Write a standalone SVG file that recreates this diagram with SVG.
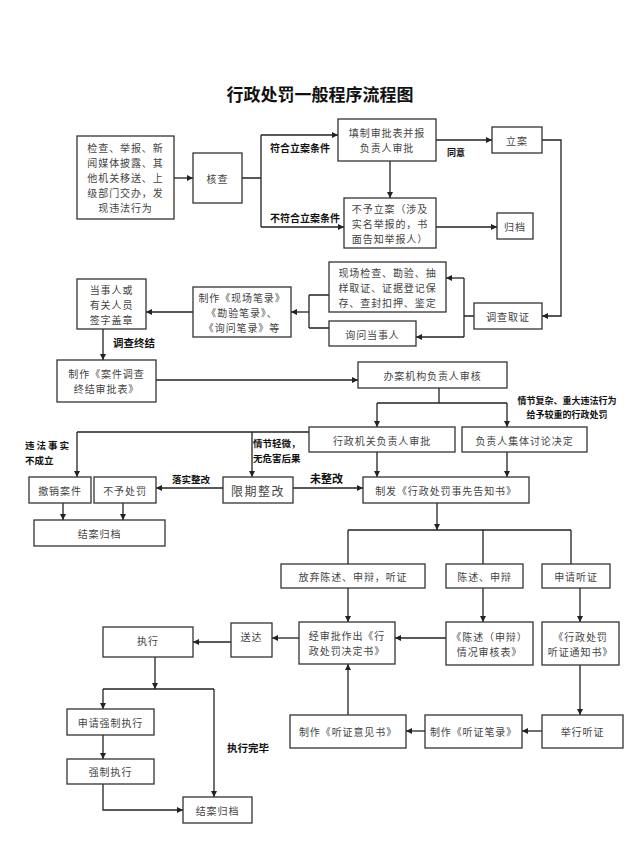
<svg xmlns="http://www.w3.org/2000/svg" width="640" height="853" viewBox="0 0 640 853">
<style>
.bg{fill:#ffffff}
.box{fill:#ffffff;stroke:#333333;stroke-width:1.3}
.t{font-family:"Noto Sans CJK SC","Noto Sans",sans-serif;font-size:10px;letter-spacing:0.9px;fill:#444444;text-anchor:middle;dominant-baseline:central}
.lbl{font-family:"Noto Sans CJK SC","Noto Sans",sans-serif;font-size:10px;font-weight:bold;fill:#111111;dominant-baseline:central}
.title{font-family:"Noto Sans CJK SC","Noto Sans",sans-serif;font-size:17px;font-weight:bold;fill:#111111;text-anchor:middle;dominant-baseline:central}
.ln{fill:none;stroke:#222222;stroke-width:1.3}
.ar{fill:none;stroke:#222222;stroke-width:1.3;marker-end:url(#ah)}
</style>
<defs>
<marker id="ah" viewBox="0 0 10 10" refX="10" refY="5" markerWidth="6" markerHeight="6" markerUnits="userSpaceOnUse" orient="auto">
<path d="M0,0 L10,5 L0,10 z" fill="#222222"/>
</marker>
</defs>
<rect class="bg" x="0" y="0" width="640" height="853"/>
<text class="title" x="320" y="93">行政处罚一般程序流程图</text>

<g id="connectors">
<path class="ar" d="M174,178 H193"/>
<path class="ln" d="M242,178 H261 M261,135 V227"/>
<path class="ar" d="M261,135 H338"/>
<path class="ar" d="M261,227 H344"/>
<path class="ar" d="M390,161 V198"/>
<path class="ar" d="M436,140 H492"/>
<path class="ar" d="M436,227 H497"/>
<path class="ar" d="M542,140 H561 V316 H542"/>
<path class="ln" d="M474,316 H464 M464,278 V337"/>
<path class="ar" d="M464,278 H446"/>
<path class="ar" d="M464,337 H416"/>
<path class="ln" d="M329,295 H309 M329,328 H309 M309,295 V328"/>
<path class="ar" d="M309,312 H291"/>
<path class="ar" d="M193,312 H146"/>
<path class="ar" d="M103,329 V360"/>
<path class="ar" d="M156,380 H358"/>
<path class="ln" d="M439,388 V403 M377,403 H507"/>
<path class="ar" d="M377,403 V427"/>
<path class="ar" d="M507,403 V427"/>
<path class="ln" d="M309,432 H77"/>
<path class="ar" d="M77,432 V477"/>
<path class="ar" d="M252,432 V477"/>
<path class="ar" d="M223,488 H156"/>
<path class="ar" d="M293,488 H363"/>
<path class="ar" d="M377,452 V477"/>
<path class="ar" d="M507,452 V477"/>
<path class="ar" d="M63,503 V520"/>
<path class="ar" d="M123,503 V520"/>
<path class="ar" d="M437,503 V530"/>
<path class="ln" d="M348,530 H571 M348,530 V564 M483,530 V564 M571,530 V564"/>
<path class="ar" d="M348,588 V622"/>
<path class="ar" d="M483,588 V622"/>
<path class="ar" d="M580,588 V622"/>
<path class="ar" d="M446,638 H395"/>
<path class="ar" d="M299,638 H272"/>
<path class="ar" d="M231,642 H193"/>
<path class="ar" d="M155,657 V689"/>
<path class="ln" d="M103,689 H214"/>
<path class="ar" d="M103,689 V709"/>
<path class="ar" d="M214,689 V797"/>
<path class="ar" d="M103,735 V759"/>
<path class="ar" d="M103,784 V810 H183"/>
<path class="ar" d="M580,665 V715"/>
<path class="ar" d="M542,731 H522"/>
<path class="ar" d="M425,731 H406"/>
<path class="ar" d="M348,715 V664"/>
</g>

<g id="labels">
<text class="lbl" x="270" y="147">符合立案条件</text>
<text class="lbl" x="270" y="217">不符合立案条件</text>
<text class="lbl" x="447" y="152" style="font-size:9px">同意</text>
<text class="lbl" x="113" y="342" style="font-size:10.5px">调查终结</text>
<text class="lbl" x="567" y="400" style="font-size:9px;text-anchor:middle">情节复杂、重大违法行为</text>
<text class="lbl" x="567" y="414" style="font-size:9px;text-anchor:middle">给予较重的行政处罚</text>
<text class="lbl" x="25" y="445" style="font-size:9.5px;letter-spacing:2px">违法事实</text>
<text class="lbl" x="25" y="460" style="font-size:9.5px">不成立</text>
<text class="lbl" x="253" y="443" style="font-size:9.5px">情节轻微，</text>
<text class="lbl" x="253" y="458" style="font-size:9.5px">无危害后果</text>
<text class="lbl" x="172" y="479" style="font-size:9.5px">落实整改</text>
<text class="lbl" x="310" y="478" style="font-size:11px">未整改</text>
<text class="lbl" x="227" y="747" style="font-size:10.5px">执行完毕</text>
</g>

<g id="n-source"><rect class="box" x="77" y="136" width="97" height="83"/>
<text class="t" x="125.5" y="147.5">检查、举报、新</text>
<text class="t" x="125.5" y="162.5">闻媒体披露、其</text>
<text class="t" x="125.5" y="177.5">他机关移送、上</text>
<text class="t" x="125.5" y="192.5">级部门交办，发</text>
<text class="t" x="125.5" y="207.5">现违法行为</text></g>
<g id="n-check"><rect class="box" x="193" y="153" width="49" height="50"/>
<text class="t" x="217.5" y="178">核查</text></g>
<g id="n-fill"><rect class="box" x="338" y="119" width="98" height="42"/>
<text class="t" x="387" y="132.5">填制审批表并报</text>
<text class="t" x="387" y="147.5">负责人审批</text></g>
<g id="n-norecord"><rect class="box" x="344" y="198" width="92" height="50"/>
<text class="t" x="390" y="208">不予立案（涉及</text>
<text class="t" x="390" y="223">实名举报的，书</text>
<text class="t" x="390" y="238">面告知举报人）</text></g>
<g id="n-record"><rect class="box" x="492" y="127" width="50" height="26"/>
<text class="t" x="517" y="140">立案</text></g>
<g id="n-archive1"><rect class="box" x="497" y="213" width="36" height="26"/>
<text class="t" x="515" y="226">归档</text></g>
<g id="n-investigate"><rect class="box" x="474" y="303" width="68" height="26"/>
<text class="t" x="508" y="316">调查取证</text></g>
<g id="n-onsite"><rect class="box" x="329" y="262" width="117" height="50"/>
<text class="t" x="387.5" y="272">现场检查、勘验、抽</text>
<text class="t" x="387.5" y="287">样取证、证据登记保</text>
<text class="t" x="387.5" y="302">存、查封扣押、鉴定</text></g>
<g id="n-inquire"><rect class="box" x="329" y="321" width="87" height="25"/>
<text class="t" x="372.5" y="334">询问当事人</text></g>
<g id="n-notes"><rect class="box" x="193" y="287" width="98" height="50"/>
<text class="t" x="242" y="297">制作《现场笔录》</text>
<text class="t" x="242" y="312">《勘验笔录》、</text>
<text class="t" x="242" y="327">《询问笔录》等</text></g>
<g id="n-sign"><rect class="box" x="77" y="279" width="69" height="50"/>
<text class="t" x="111.5" y="289">当事人或</text>
<text class="t" x="111.5" y="304">有关人员</text>
<text class="t" x="111.5" y="319">签字盖章</text></g>
<g id="n-final"><rect class="box" x="57" y="360" width="99" height="42"/>
<text class="t" x="106.5" y="373.5">制作《案件调查</text>
<text class="t" x="106.5" y="388.5">终结审批表》</text></g>
<g id="n-review"><rect class="box" x="358" y="362" width="149" height="26"/>
<text class="t" x="432.5" y="375">办案机构负责人审核</text></g>
<g id="n-approve"><rect class="box" x="309" y="427" width="146" height="25"/>
<text class="t" x="382" y="440">行政机关负责人审批</text></g>
<g id="n-collective"><rect class="box" x="462" y="427" width="125" height="25"/>
<text class="t" x="524.5" y="440">负责人集体讨论决定</text></g>
<g id="n-revoke"><rect class="box" x="29" y="477" width="62" height="26"/>
<text class="t" x="60" y="490">撤销案件</text></g>
<g id="n-nopenalty"><rect class="box" x="94" y="477" width="62" height="26"/>
<text class="t" x="125" y="490">不予处罚</text></g>
<g id="n-rectify"><rect class="box" x="223" y="477" width="70" height="26"/>
<text class="t" x="258" y="490" style="font-size:12px;letter-spacing:1.5px">限期整改</text></g>
<g id="n-notice"><rect class="box" x="363" y="477" width="166" height="26"/>
<text class="t" x="446" y="490">制发《行政处罚事先告知书》</text></g>
<g id="n-close1"><rect class="box" x="34" y="520" width="131" height="26"/>
<text class="t" x="99.5" y="533">结案归档</text></g>
<g id="n-waive"><rect class="box" x="281" y="564" width="144" height="24"/>
<text class="t" x="353" y="576">放弃陈述、申辩，听证</text></g>
<g id="n-state"><rect class="box" x="446" y="564" width="77" height="24"/>
<text class="t" x="484.5" y="576">陈述、申辩</text></g>
<g id="n-hearreq"><rect class="box" x="542" y="564" width="68" height="24"/>
<text class="t" x="576" y="576">申请听证</text></g>
<g id="n-decision"><rect class="box" x="299" y="622" width="96" height="42"/>
<text class="t" x="347" y="635.5">经审批作出《行</text>
<text class="t" x="347" y="650.5">政处罚决定书》</text></g>
<g id="n-statetable"><rect class="box" x="446" y="622" width="87" height="43"/>
<text class="t" x="489.5" y="636">《陈述（申辩）</text>
<text class="t" x="489.5" y="651">情况审核表》</text></g>
<g id="n-hearnotice"><rect class="box" x="542" y="622" width="77" height="43"/>
<text class="t" x="580.5" y="636">《行政处罚</text>
<text class="t" x="580.5" y="651">听证通知书》</text></g>
<g id="n-deliver"><rect class="box" x="231" y="623" width="41" height="34"/>
<text class="t" x="251.5" y="636">送达</text></g>
<g id="n-execute"><rect class="box" x="103" y="627" width="90" height="30"/>
<text class="t" x="148" y="640">执行</text></g>
<g id="n-applyforce"><rect class="box" x="67" y="709" width="87" height="26"/>
<text class="t" x="110.5" y="722">申请强制执行</text></g>
<g id="n-force"><rect class="box" x="67" y="759" width="87" height="25"/>
<text class="t" x="110.5" y="771">强制执行</text></g>
<g id="n-close2"><rect class="box" x="183" y="797" width="69" height="26"/>
<text class="t" x="217.5" y="810">结案归档</text></g>
<g id="n-opinion"><rect class="box" x="290" y="715" width="116" height="33"/>
<text class="t" x="348" y="731">制作《听证意见书》</text></g>
<g id="n-hearnotes"><rect class="box" x="425" y="715" width="97" height="33"/>
<text class="t" x="473.5" y="731">制作《听证笔录》</text></g>
<g id="n-hold"><rect class="box" x="542" y="715" width="81" height="33"/>
<text class="t" x="582.5" y="731">举行听证</text></g>
</svg>
